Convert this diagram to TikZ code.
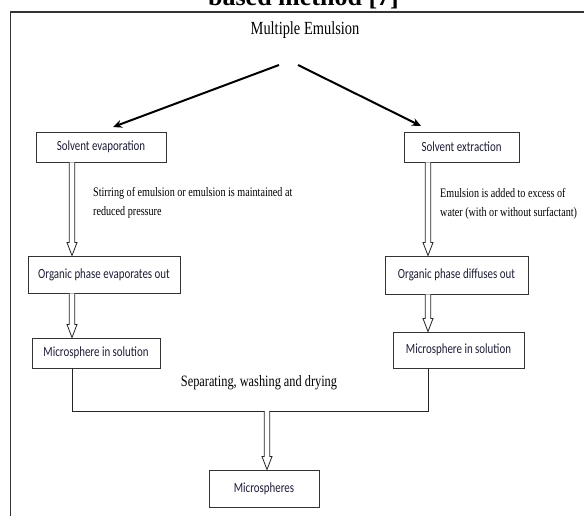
\documentclass[tikz,border=0pt]{standalone}
\usepackage{fontspec}
\setmainfont{Liberation Serif}
\newfontfamily\sansbox[FakeStretch=0.78]{Carlito}
\newfontfamily\serifn[FakeStretch=0.78]{Liberation Serif}
\usetikzlibrary{arrows.meta,calc}
\definecolor{boxtext}{RGB}{30,30,55}
\tikzset{
  box/.style={draw=black!80, line width=0.9pt, inner sep=0pt,
    font=\sansbox\fontsize{14}{16}\selectfont, text=boxtext},
  blk/.style={draw=black!85, line width=0.8pt, fill=white, line join=miter},
  thk/.style={line width=2pt, -{Stealth[length=9pt,width=8pt]}},
  joinline/.style={draw=black!85, line width=0.9pt},
  note/.style={font=\serifn\fontsize{13}{19}\selectfont, align=left, inner sep=0pt, anchor=north west},
}
\newcommand\blkarrow[2]{\path[blk] let \p1=(#1), \p2=(#2) in
  (\x1-2.7pt,\y1) -- (\x1-2.7pt,\y2+13pt) -- (\x1-5pt,\y2+13pt) -- (\x1,\y2)
  -- (\x1+5pt,\y2+13pt) -- (\x1+2.7pt,\y2+13pt) -- (\x1+2.7pt,\y1);}
\begin{document}
\begin{tikzpicture}[x=1pt,y=-1pt]
\useasboundingbox (0,0) rectangle (584,516);
\clip (0,0) rectangle (584,516);
\fill[white] (0,0) rectangle (584,516);
\node[font=\bfseries\fontsize{26}{28}\selectfont, anchor=base] (cap) at (303.5,6) {based method [7]};
\draw[black!80, line width=1.5pt] (10.5,530) -- (10.5,12) -- (600,12);
\node[font=\serifn\fontsize{18.5}{20}\selectfont] (me) at (305,30) {Multiple Emulsion};

\node[box, minimum width=130pt, minimum height=30pt] (se) at (101,147) {Solvent evaporation};
\node[box, minimum width=115pt, minimum height=30pt] (sx) at (461.5,147) {Solvent extraction};
\node[box, minimum width=152pt, minimum height=37pt] (oe) at (104,274.5) {Organic phase evaporates out};
\node[box, minimum width=143pt, minimum height=38pt] (od) at (456.5,275) {Organic phase diffuses out};
\node[box, minimum width=128pt, minimum height=30pt] (ml) at (96,353) {Microsphere in solution};
\node[box, minimum width=131pt, minimum height=36pt] (mr) at (458.5,350) {Microsphere in solution};
\node[box, minimum width=110pt, minimum height=37pt] (ms) at (264,488.5) {Microspheres};

\node[note] (n1) at (93,187) {Stirring of emulsion or emulsion is maintained at\\reduced pressure};
\node[note] (n2) at (440,188) {Emulsion is added to excess of\\water (with or without surfactant)};
\node[font=\serifn\fontsize{15.8}{18}\selectfont] (swd) at (259,383) {Separating, washing and drying};

\coordinate (aL) at (279,65);
\coordinate (aR) at (298,65);
\coordinate (tL) at (113,127);
\coordinate (tR) at (421,126);
\draw[thk] (aL) -- (tL);
\draw[thk] (aR) -- (tR);

\coordinate (cL) at (72,0);
\coordinate (cR) at (428,0);
\blkarrow{cL |- se.south}{cL |- oe.north}
\blkarrow{cL |- oe.south}{cL |- ml.north}
\blkarrow{cR |- sx.south}{cR |- od.north}
\blkarrow{cR |- od.south}{cR |- mr.north}

\coordinate (jl) at (72,411);
\coordinate (jr) at (428,411);
\coordinate (jc) at (267,411);
\draw[joinline] (ml.south -| jl) -- (jl) -- (jr) -- (mr.south -| jr);
\blkarrow{jc}{jc |- ms.north}
\end{tikzpicture}
\end{document}
